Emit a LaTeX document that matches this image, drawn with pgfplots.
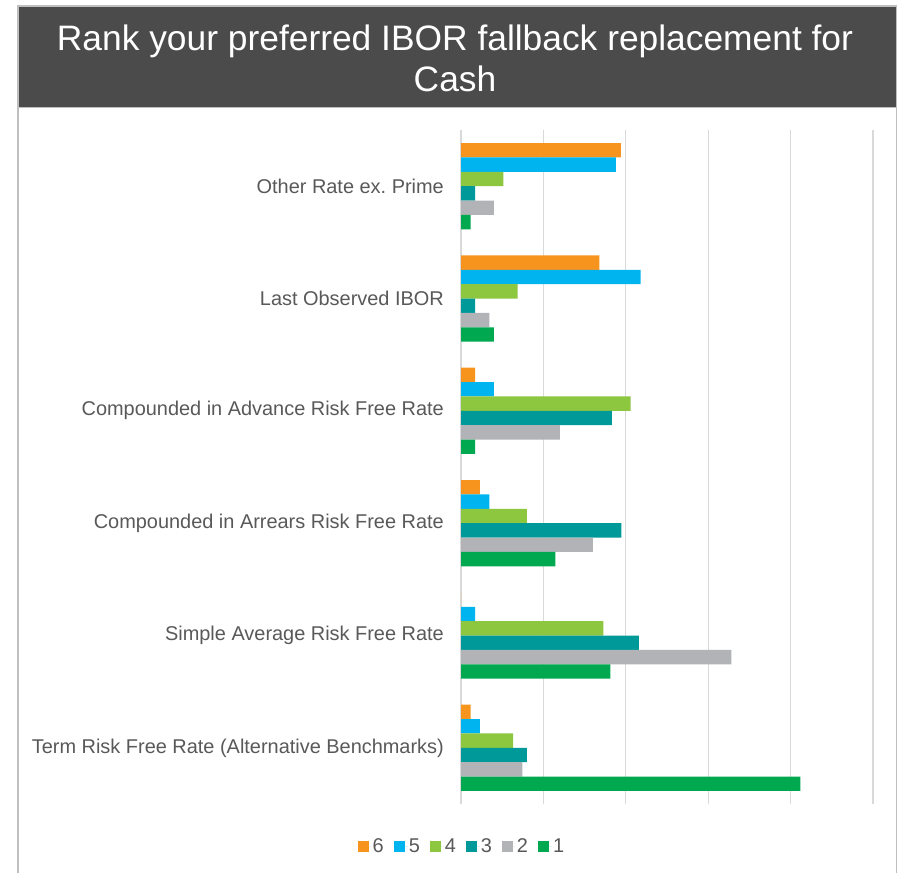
\documentclass[border=0pt]{standalone}
\usepackage{fontspec}
\setmainfont{Liberation Sans}
\usepackage{pgfplots}
\pgfplotsset{compat=1.18}
\definecolor{cSix}{HTML}{F7941D}
\definecolor{cFive}{HTML}{00B5EF}
\definecolor{cFour}{HTML}{8DC63F}
\definecolor{cThree}{HTML}{009999}
\definecolor{cTwo}{HTML}{B1B3B6}
\definecolor{cOne}{HTML}{00A94F}
\definecolor{banner}{HTML}{4B4B4B}
\definecolor{framec}{HTML}{BFBFBF}
\definecolor{gridc}{HTML}{D9D9D9}
\definecolor{labelc}{HTML}{595959}
\frenchspacing
\begin{document}
\begin{tikzpicture}
\useasboundingbox (0bp,0bp) rectangle (903bp,-873bp);
\fill[white] (0bp,0bp) rectangle (903bp,-873bp);
\fill[banner] (18bp,-6bp) rectangle (896.5bp,-107bp);
\draw[framec, line width=1.5bp] (18bp,-873bp) -- (18bp,-6bp) -- (896.5bp,-6bp) -- (896.5bp,-873bp);
\draw[framec, line width=1bp] (18bp,-107bp) -- (896.5bp,-107bp);
\node[anchor=base, text=white, inner sep=0pt, font=\fontsize{35.5}{42}\selectfont] at (455bp,-50.5bp) {Rank your preferred IBOR fallback replacement for};
\node[anchor=base, text=white, inner sep=0pt, font=\fontsize{35.5}{42}\selectfont] at (455bp,-91.5bp) {Cash};
\begin{axis}[
  at={(461bp,-804bp)}, anchor=south west,
  width=412bp, height=674bp, scale only axis,
  xbar, bar width=0.128,
  xmin=0, xmax=25, ymin=-0.5, ymax=5.5,
  xtick={0,5,...,25}, xticklabel=\empty,
  xmajorgrids, major grid style={color=gridc, line width=1.2bp},
  ytick={0,1,2,3,4,5},
  yticklabels={{Term Risk Free Rate (Alternative Benchmarks)},{Simple Average Risk Free Rate},{Compounded in Arrears Risk Free Rate},{Compounded in Advance Risk Free Rate},{Last Observed IBOR},{Other Rate ex. Prime}},
  axis line style={draw=none}, major tick length=0pt,
  y tick label style={font=\fontsize{20}{24}\selectfont, text=labelc, inner sep=0pt, xshift=-17bp},
  legend columns=6,
  legend style={draw=none, fill=none, at={(0.001,-0.0623)}, anchor=center,
    font=\fontsize{20}{24}\selectfont, text=labelc, inner sep=0pt,
    nodes={inner sep=1bp},
    /tikz/every even column/.append style={column sep=9bp}},
  legend image code/.code={\fill[#1] (0bp,-5.5bp) rectangle (11bp,5.5bp); \path (0bp,0bp) -- (14bp,0bp);},
]
\addplot[fill=cSix, draw=none, bar shift=0.32] coordinates {(0.59,0) (0,1) (1.15,2) (0.85,3) (8.4,4) (9.7,5)};
\addlegendentry{6}
\addplot[fill=cFive, draw=none, bar shift=0.192] coordinates {(1.15,0) (0.85,1) (1.72,2) (2.0,3) (10.9,4) (9.4,5)};
\addlegendentry{5}
\addplot[fill=cFour, draw=none, bar shift=0.064] coordinates {(3.16,0) (8.64,1) (4.0,2) (10.3,3) (3.44,4) (2.57,5)};
\addlegendentry{4}
\addplot[fill=cThree, draw=none, bar shift=-0.064] coordinates {(4.0,0) (10.8,1) (9.73,2) (9.16,3) (0.85,4) (0.85,5)};
\addlegendentry{3}
\addplot[fill=cTwo, draw=none, bar shift=-0.192] coordinates {(3.72,0) (16.4,1) (8.0,2) (6.0,3) (1.72,4) (2.0,5)};
\addlegendentry{2}
\addplot[fill=cOne, draw=none, bar shift=-0.32] coordinates {(20.6,0) (9.06,1) (5.72,2) (0.85,3) (2.0,4) (0.59,5)};
\addlegendentry{1}
\end{axis}
\end{tikzpicture}
\end{document}
